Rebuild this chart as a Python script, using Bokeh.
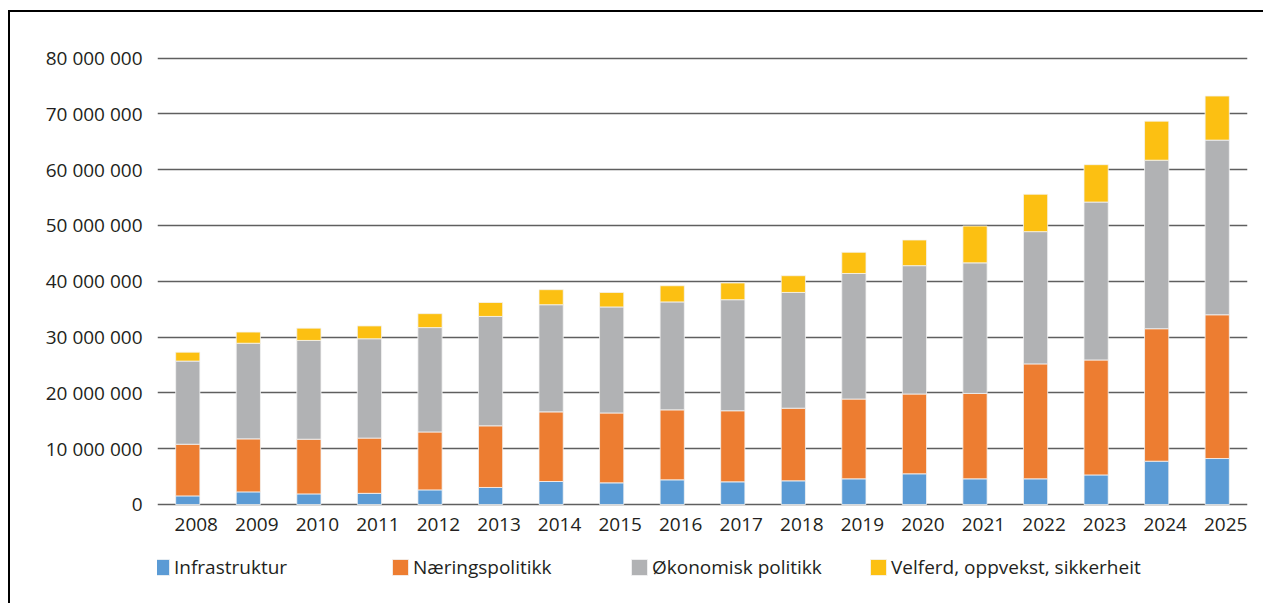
from bokeh.plotting import figure
from bokeh.models import Range1d, FixedTicker, Legend, LegendItem, ColumnDataSource
from bokeh.embed import file_html
from bokeh.resources import INLINE

years = ["2008", "2009", "2010", "2011", "2012", "2013", "2014", "2015", "2016",
         "2017", "2018", "2019", "2020", "2021", "2022", "2023", "2024", "2025"]
infrastruktur = [1540000, 2260000, 1900000, 2000000, 2620000, 3050000, 4120000, 3880000, 4420000,
                 4060000, 4240000, 4600000, 5500000, 4600000, 4600000, 5300000, 7760000, 8240000]
naeringspolitikk = [9260000, 9500000, 9800000, 9900000, 10380000, 11050000, 12480000, 12520000, 12540000,
                    12740000, 13020000, 14300000, 14300000, 15300000, 20600000, 20600000, 23740000, 25760000]
okonomisk_politikk = [14900000, 17140000, 17700000, 17800000, 18700000, 19600000, 19200000, 19000000, 19340000,
                      19900000, 20740000, 22500000, 23000000, 23400000, 23700000, 28300000, 30200000, 31300000]
velferd = [1600000, 2000000, 2200000, 2300000, 2500000, 2500000, 2700000, 2600000, 2900000,
           3000000, 3000000, 3800000, 4600000, 6600000, 6700000, 6700000, 7000000, 7900000]

series_keys = ["infra", "naering", "okonomi", "velferd"]
series_names = ["Infrastruktur", "Næringspolitikk", "Økonomisk politikk", "Velferd, oppvekst, sikkerheit"]
colors = ["#5B9BD5", "#ED7D31", "#B1B2B4", "#FCC012"]

y_ticks = [0, 10000000, 20000000, 30000000, 40000000, 50000000, 60000000, 70000000, 80000000]
y_tick_labels = ["0", "10 000 000", "20 000 000", "30 000 000", "40 000 000",
                 "50 000 000", "60 000 000", "70 000 000", "80 000 000"]

FONT = "Open Sans"
TEXT_COLOR = "#231f20"
GRID_COLOR = "#5f5f5f"

xpos = [i + 0.5 for i in range(len(years))]
label_shift = 0.14
x_ticks = [x + label_shift for x in xpos]

source = ColumnDataSource(data=dict(
    x=xpos, year=years,
    infra=infrastruktur, naering=naeringspolitikk,
    okonomi=okonomisk_politikk, velferd=velferd,
))

# frame extends below the zero line so that the legend sits inside it
p = figure(width=1255, height=593, output_backend="svg", toolbar_location=None,
           x_range=Range1d(0, len(years)), y_range=Range1d(-18100000, 81000000),
           min_border_left=147, min_border_right=18, min_border_top=40, min_border_bottom=0)
p.styles = {"border-top": "2px solid #000000", "border-left": "2px solid #000000",
            "margin-top": "10px", "margin-left": "8px"}
p.outline_line_color = None
p.background_fill_color = "white"
p.border_fill_color = "white"

renderers = p.vbar_stack(series_keys, x="x", width=0.4, source=source, color=colors,
                         line_color="#f4f4f4", line_width=0.8)

# y axis
p.yaxis.ticker = FixedTicker(ticks=y_ticks)
p.yaxis.major_label_overrides = {t: l for t, l in zip(y_ticks, y_tick_labels)}
p.yaxis.axis_line_color = None
p.yaxis.major_tick_line_color = None
p.yaxis.minor_tick_line_color = None
p.yaxis.major_label_standoff = 9
p.yaxis.major_label_text_font = FONT
p.yaxis.major_label_text_font_size = "19px"
p.yaxis.major_label_text_color = TEXT_COLOR

# x axis, pinned at the zero line
p.xaxis.fixed_location = 0
p.xaxis.ticker = FixedTicker(ticks=x_ticks)
p.xaxis.major_label_overrides = {t: y for t, y in zip(x_ticks, years)}
p.xaxis.axis_line_color = None
p.xaxis.major_tick_line_color = None
p.xaxis.minor_tick_line_color = None
p.xaxis.major_label_standoff = 8
p.xaxis.major_label_text_font = FONT
p.xaxis.major_label_text_font_size = "19px"
p.xaxis.major_label_text_color = TEXT_COLOR

p.xgrid.visible = False
p.ygrid.ticker = FixedTicker(ticks=y_ticks)
p.ygrid.grid_line_color = GRID_COLOR
p.ygrid.grid_line_width = 1.3

legend = Legend(items=[LegendItem(label=n, renderers=[r]) for n, r in zip(series_names, renderers)],
                orientation="horizontal", location=(-6, 25),
                glyph_width=20, glyph_height=20, label_standoff=3, spacing=0,
                label_width=216, padding=0, margin=0,
                border_line_color=None, background_fill_alpha=0,
                label_text_font=FONT, label_text_font_size="19px", label_text_color=TEXT_COLOR)
p.add_layout(legend, "center")

open("out.html", "w").write(file_html(p, INLINE))
